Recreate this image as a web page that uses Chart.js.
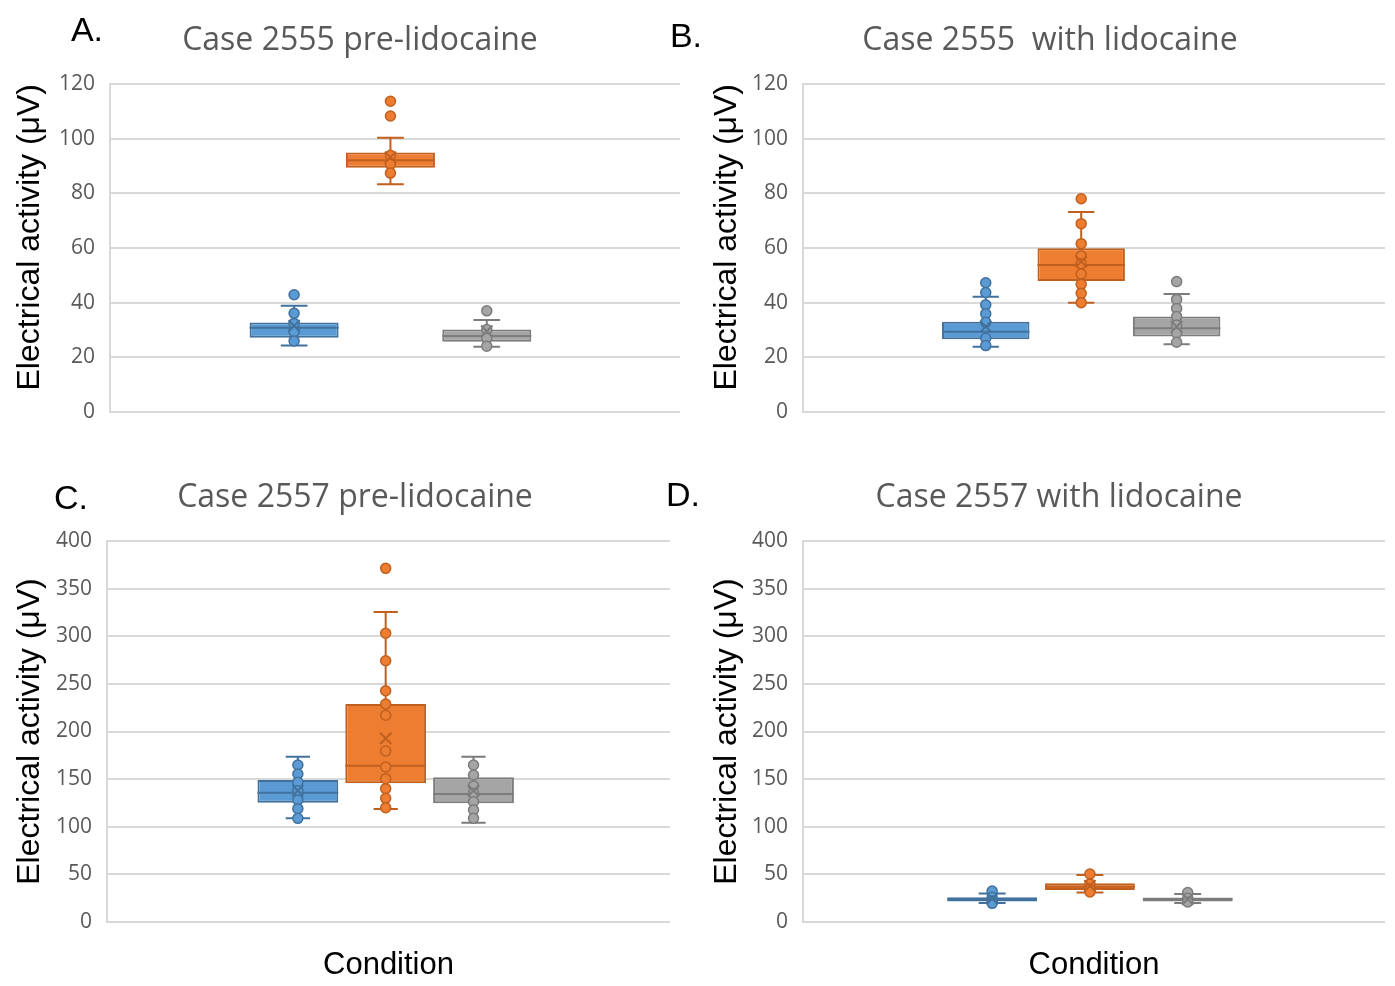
<!DOCTYPE html>
<html>
<head>
<meta charset="utf-8">
<script src="https://cdn.jsdelivr.net/npm/chart.js@4.4.1/dist/chart.umd.min.js"></script>
<style>
  body { margin: 0; background: #fff; width: 1395px; height: 986px; position: relative; overflow: hidden; }
  canvas { position: absolute; }
  .lbl { position: absolute; transform: translate(-50%, -50%); white-space: pre; }
  .letter { font-family: "Liberation Sans", Arial, sans-serif; font-size: 34px; color: #000; }
  .ttl { font-family: "Open Sans", sans-serif; font-size: 32px; color: #595959; }
</style>
</head>
<body>
<canvas id="chartA" width="697" height="445" style="left:0;top:0"></canvas>
<canvas id="chartB" width="698" height="445" style="left:697px;top:0"></canvas>
<canvas id="chartC" width="697" height="531" style="left:0;top:455px"></canvas>
<canvas id="chartD" width="698" height="531" style="left:697px;top:455px"></canvas>

<div class="lbl letter" style="left:87px;top:29px">A.</div>
<div class="lbl letter" style="left:686px;top:35px">B.</div>
<div class="lbl letter" style="left:71px;top:497px">C.</div>
<div class="lbl letter" style="left:683px;top:494px">D.</div>
<div class="lbl ttl" style="left:360px;top:37px">Case 2555 pre-lidocaine</div>
<div class="lbl ttl" style="left:1050px;top:37px">Case 2555  with lidocaine</div>
<div class="lbl ttl" style="left:355px;top:494px">Case 2557 pre-lidocaine</div>
<div class="lbl ttl" style="left:1059px;top:494px">Case 2557 with lidocaine</div>

<script>
// three conditions per panel (names not shown on the figure)
var groups = ['Series 1', 'Series 2', 'Series 3'];
var fills = ['#5B9BD5', '#ED7D31', '#A5A5A5'];
var edges = ['#41719C', '#C0601F', '#7C7C7C'];

// A. Case 2555 pre-lidocaine
var a_q1 = [27.2, 89.4, 25.7];
var a_median = [30.8, 92.1, 27.8];
var a_q3 = [32.7, 94.9, 30.2];
var a_min = [24.3, 83.3, 23.9];
var a_max = [38.9, 100.3, 33.7];
var a_mean = [31.5, 93.2, 29.6];
var a_points = [
    [42.9, 36.1, 32.4, 29.4, 26.0],
    [113.7, 108.3, 93.9, 90.6, 87.4],
    [37.0, 30.2, 27.0, 24.1]
];
var a_ticks = [0, 20, 40, 60, 80, 100, 120];

// B. Case 2555 with lidocaine
var b_q1 = [26.6, 47.9, 27.6];
var b_median = [29.4, 53.8, 30.6];
var b_q3 = [33.0, 59.9, 34.9];
var b_min = [23.9, 40.0, 24.8];
var b_max = [42.2, 73.2, 43.2];
var b_mean = [31.2, 55.0, 31.2];
var b_points = [
    [47.3, 43.7, 39.2, 35.9, 32.8, 27.0, 24.3],
    [78.0, 68.9, 61.6, 57.1, 54.2, 50.5, 46.7, 43.4, 40.0],
    [47.7, 41.2, 37.9, 34.9, 31.8, 28.8, 25.5]
];
var b_ticks = [0, 20, 40, 60, 80, 100, 120];

// C. Case 2557 pre-lidocaine
var c_q1 = [125.3, 145.6, 124.6];
var c_median = [135.7, 164.1, 134.4];
var c_q3 = [149.1, 228.9, 151.9];
var c_min = [108.8, 118.6, 104.3];
var c_max = [173.6, 325.5, 173.6];
var c_mean = [137.9, 192.8, 137.9];
var c_points = [
    [164.8, 155.4, 146.7, 137.9, 128.1, 119.0, 108.8],
    [371.3, 303.1, 274.3, 242.8, 228.9, 217.0, 179.5, 162.7, 150.5, 140.0, 129.8, 120.0],
    [164.8, 154.3, 142.8, 135.1, 126.3, 117.6, 108.8]
];
var c_ticks = [0, 50, 100, 150, 200, 250, 300, 350, 400];

// D. Case 2557 with lidocaine
var d_q1 = [21.5, 33.6, 21.5];
var d_median = [24.0, 37.0, 24.0];
var d_q3 = [26.0, 40.6, 25.8];
var d_min = [20.0, 31.0, 20.0];
var d_max = [30.0, 49.3, 29.5];
var d_mean = [24.5, 38.0, 24.0];
var d_points = [
    [32.5, 26.0, 22.0, 19.6],
    [50.4, 40.0, 34.5, 31.5],
    [31.0, 25.0, 21.0]
];
var d_ticks = [0, 50, 100, 150, 200, 250, 300, 350, 400];

function boxChart(id, q1, median, q3, lo, hi, mean, points, yTicks, box) {
    var datasets = [];
    var hw = box.slot * box.bp / 2;     // half box width, fraction of plot width
    var cap = hw * 0.3;

    for (var i = 0; i < 3; i++) {
        var c = box.mid + (i - 1) * box.slot;
        var gap = {x: c, y: null};
        datasets.push({
            type: 'bar',
            label: groups[i],
            data: [{x: c, y: [q1[i], q3[i]]}],
            backgroundColor: fills[i],
            borderColor: edges[i],
            borderWidth: 2,
            borderSkipped: false,
            grouped: false,
            categoryPercentage: 1,
            barPercentage: box.bp,
            order: 3
        });
        // whiskers, caps and median
        datasets.push({
            type: 'line',
            data: [
                {x: c, y: lo[i]}, {x: c, y: q1[i]}, gap,
                {x: c, y: q3[i]}, {x: c, y: hi[i]}, gap,
                {x: c - cap, y: hi[i]}, {x: c + cap, y: hi[i]}, gap,
                {x: c - cap, y: lo[i]}, {x: c + cap, y: lo[i]}, gap,
                {x: c - hw, y: median[i]}, {x: c + hw, y: median[i]}
            ],
            borderColor: edges[i],
            borderWidth: 2,
            pointRadius: 0,
            fill: false,
            spanGaps: false,
            order: 2
        });
        datasets.push({
            type: 'scatter',
            data: points[i].map(function (v) { return {x: c, y: v}; }),
            pointRadius: 5,
            backgroundColor: fills[i],
            borderColor: edges[i],
            borderWidth: 1.5,
            order: 1
        });
        datasets.push({
            type: 'scatter',
            data: [{x: c, y: mean[i]}],
            pointStyle: 'crossRot',
            pointRadius: 8,
            borderColor: edges[i],
            borderWidth: 2,
            order: 0
        });
    }

    return new Chart(document.getElementById(id), {
        type: 'bar',
        data: {datasets: datasets},
        options: {
            responsive: false,
            animation: false,
            layout: {
                padding: {top: box.padTop, right: box.padRight, left: 0, bottom: 0}
            },
            plugins: {
                legend: {display: false},
                tooltip: {enabled: false},
                title: {display: false}
            },
            scales: {
                x: {
                    type: 'linear',
                    offset: false,
                    min: 0,
                    max: 1,
                    grid: {display: false},
                    border: {display: false},
                    ticks: {display: false, stepSize: 1},
                    title: {
                        display: box.xTitle,
                        text: 'Condition',
                        color: '#000',
                        font: {family: 'Liberation Sans', size: 31},
                        padding: {top: 0, bottom: 2}
                    },
                    afterFit: function (s) { s.height = box.xHeight; }
                },
                y: {
                    min: yTicks[0],
                    max: yTicks[yTicks.length - 1],
                    ticks: {
                        stepSize: yTicks[1] - yTicks[0],
                        padding: 15,
                        color: '#595959',
                        font: {family: 'Open Sans', size: 21}
                    },
                    grid: {color: '#d9d9d9', lineWidth: 2, drawTicks: false},
                    border: {display: true, color: '#d9d9d9', width: 2},
                    title: {
                        display: true,
                        text: 'Electrical activity (μV)',
                        align: box.yTitleAlign,
                        color: '#000',
                        font: {family: 'Liberation Sans', size: 32},
                        padding: {top: 11, bottom: 0}
                    },
                    afterFit: function (s) { s.width = box.yWidth; }
                }
            }
        }
    });
}

boxChart('chartA', a_q1, a_median, a_q3, a_min, a_max, a_mean, a_points, a_ticks,
    {padTop: 84, padRight: 17, yWidth: 110, xHeight: 33, mid: 0.492, slot: 0.169, bp: 0.924, xTitle: false, yTitleAlign: 'end'});
boxChart('chartB', b_q1, b_median, b_q3, b_min, b_max, b_mean, b_points, b_ticks,
    {padTop: 84, padRight: 10, yWidth: 106, xHeight: 33, mid: 0.478, slot: 0.164, bp: 0.916, xTitle: false, yTitleAlign: 'end'});
boxChart('chartC', c_q1, c_median, c_q3, c_min, c_max, c_mean, c_points, c_ticks,
    {padTop: 86, padRight: 27, yWidth: 107, xHeight: 64, mid: 0.495, slot: 0.156, bp: 0.92, xTitle: true, yTitleAlign: 'center'});
boxChart('chartD', d_q1, d_median, d_q3, d_min, d_max, d_mean, d_points, d_ticks,
    {padTop: 86, padRight: 10, yWidth: 106, xHeight: 64, mid: 0.493, slot: 0.168, bp: 0.918, xTitle: true, yTitleAlign: 'center'});
</script>
</body>
</html>
